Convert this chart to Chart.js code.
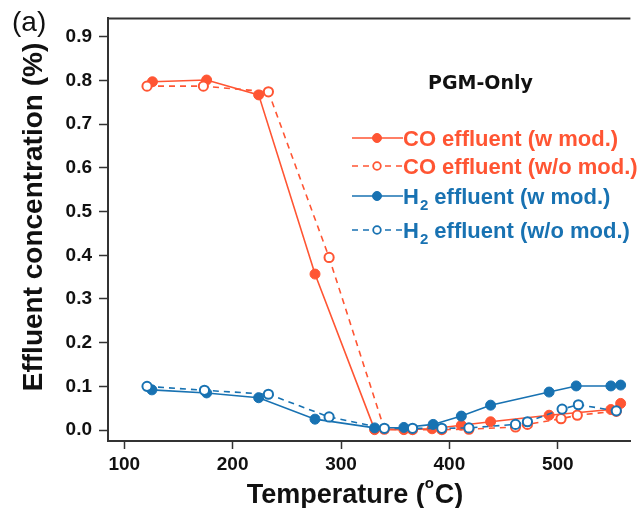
<!DOCTYPE html>
<html><head><meta charset="utf-8">
<script src="https://cdn.jsdelivr.net/npm/chart.js@4.4.1/dist/chart.umd.min.js"></script>
<style>html,body{margin:0;padding:0;background:#fff;overflow:hidden}canvas{display:block}</style>
</head><body>
<canvas id="c" width="637" height="508"></canvas>
<script>
// ---- data ----
const xTickValues = [100, 200, 300, 400, 500];
const xTickLabels = ['100', '200', '300', '400', '500'];
const yTickValues = [0, 0.1, 0.2, 0.3, 0.4, 0.5, 0.6, 0.7, 0.8, 0.9];
const yTickLabels = ['0.0', '0.1', '0.2', '0.3', '0.4', '0.5', '0.6', '0.7', '0.8', '0.9'];

const coTempW  = [126, 176, 224, 276, 331, 358, 384, 411, 438, 492, 549, 558];
const coW      = [0.797, 0.801, 0.767, 0.357, 0.001, 0.001, 0.003, 0.011, 0.019, 0.034, 0.047, 0.061];
const coTempWo = [121, 173, 233, 289, 340, 366, 393, 418, 461, 472, 503, 518, 554];
const coWo     = [0.787, 0.787, 0.774, 0.395, 0.002, 0.001, 0.001, 0.002, 0.007, 0.013, 0.026, 0.034, 0.043];
const h2TempW  = [125.5, 176, 224, 276, 331, 358, 385, 411, 438, 492, 517, 549, 558];
const h2W      = [0.092, 0.085, 0.074, 0.025, 0.005, 0.006, 0.013, 0.032, 0.057, 0.087, 0.101, 0.101, 0.103];
const h2TempWo = [121, 174, 233, 289, 340, 366, 393, 418, 461, 472, 504, 519, 554];
const h2Wo     = [0.100, 0.091, 0.082, 0.030, 0.004, 0.004, 0.004, 0.005, 0.013, 0.019, 0.048, 0.058, 0.044];

const seriesNames = ['CO effluent (w mod.)', 'CO effluent (w/o mod.)', 'H2 effluent (w mod.)', 'H2 effluent (w/o mod.)'];
const panelLabel = '(a)';
const annotation = 'PGM-Only';
const xTitle = 'Temperature (°C)';
const yTitle = 'Effluent concentration (%)';

// ---- styling ----
const RED = '#FF5533';
const BLUE = '#1872B2';
const AXIS = '#333333';
const TXT = '#111111';

const pts = (xs, ys) => xs.map((x, i) => ({ x: x, y: ys[i] }));

function mkDataset(label, xs, ys, color, filled, dashed, order) {
  return {
    label: label,
    data: pts(xs, ys),
    showLine: true,
    borderColor: color,
    borderWidth: 1.6,
    borderDash: dashed ? [6, 5] : [],
    pointRadius: filled ? 5 : 4.6,
    pointBorderWidth: filled ? 1 : 2,
    pointBackgroundColor: filled ? color : '#ffffff',
    pointBorderColor: color,
    fill: false,
    tension: 0,
    order: order
  };
}

const datasets = [
  mkDataset(seriesNames[0], coTempW, coW, RED, true, false, 3),
  mkDataset(seriesNames[1], coTempWo, coWo, RED, false, true, 2),
  mkDataset(seriesNames[2], h2TempW, h2W, BLUE, true, false, 1),
  mkDataset(seriesNames[3], h2TempWo, h2Wo, BLUE, false, true, 0)
];

function labelFor(values, labels, v) {
  for (let i = 0; i < values.length; i++) if (Math.abs(values[i] - v) < 1e-9) return labels[i];
  return '';
}

const decorPlugin = {
  id: 'decor',
  afterDraw(chart) {
    const ctx = chart.ctx;
    const ca = chart.chartArea;
    ctx.save();
    // top frame line
    ctx.strokeStyle = AXIS;
    ctx.lineWidth = 2;
    ctx.beginPath();
    ctx.moveTo(ca.left - 1, ca.top);
    ctx.lineTo(ca.right, ca.top);
    ctx.stroke();

    // panel label
    ctx.fillStyle = TXT;
    ctx.textBaseline = 'alphabetic';
    ctx.textAlign = 'left';
    ctx.font = '28px "Liberation Sans", Arial, sans-serif';
    ctx.fillText(panelLabel, 12, 31);

    // annotation
    ctx.font = 'bold 19px "DejaVu Sans", sans-serif';
    ctx.fillText(annotation, 428, 89);

    // y title
    ctx.save();
    ctx.translate(42, 217);
    ctx.rotate(-Math.PI / 2);
    ctx.textAlign = 'center';
    ctx.font = 'bold 28px "Liberation Sans", Arial, sans-serif';
    ctx.fillText(yTitle, 0, 0);
    ctx.restore();

    // x title with superscript degree
    const big = 'bold 27px "Liberation Sans", Arial, sans-serif';
    const small = 'bold 15px "Liberation Sans", Arial, sans-serif';
    const idx = xTitle.indexOf('°');
    const p1 = xTitle.slice(0, idx), p2 = 'o', p3 = xTitle.slice(idx + 1);
    ctx.font = big; const w1 = ctx.measureText(p1).width; const w3 = ctx.measureText(p3).width;
    ctx.font = small; const w2 = ctx.measureText(p2).width;
    let x0 = 355 - (w1 + w2 + w3 + 1) / 2;
    ctx.textAlign = 'left';
    ctx.font = big; ctx.fillText(p1, x0, 503);
    ctx.font = small; ctx.fillText(p2, x0 + w1, 488);
    ctx.font = big; ctx.fillText(p3, x0 + w1 + w2 + 1, 503);

    // legend
    const rows = [
      { ds: 0, y: 138 }, { ds: 1, y: 166 }, { ds: 2, y: 196 }, { ds: 3, y: 230 }
    ];
    const legFont = 'bold 22px "Liberation Sans", Arial, sans-serif';
    const subFont = 'bold 15px "Liberation Sans", Arial, sans-serif';
    rows.forEach(r => {
      const d = chart.data.datasets[r.ds];
      const col = d.borderColor;
      ctx.save();
      ctx.strokeStyle = col;
      ctx.lineWidth = 1.6;
      ctx.setLineDash(d.borderDash);
      ctx.beginPath();
      ctx.moveTo(352, r.y);
      ctx.lineTo(403, r.y);
      ctx.stroke();
      ctx.setLineDash([]);
      ctx.beginPath();
      const filled = d.pointBackgroundColor !== '#ffffff';
      ctx.arc(377, r.y, filled ? 4.5 : 3.8, 0, Math.PI * 2);
      ctx.fillStyle = d.pointBackgroundColor;
      ctx.fill();
      ctx.lineWidth = filled ? 1 : 1.8;
      ctx.stroke();
      ctx.restore();
      // text
      ctx.fillStyle = col;
      ctx.textAlign = 'left';
      ctx.textBaseline = 'alphabetic';
      const base = r.y + 8;
      const label = d.label;
      if (label.startsWith('H2')) {
        ctx.font = legFont;
        ctx.fillText('H', 403, base);
        const wH = ctx.measureText('H').width;
        ctx.font = subFont;
        ctx.fillText('2', 403 + wH + 1, base + 6);
        const w2s = ctx.measureText('2').width;
        ctx.font = legFont;
        ctx.fillText(label.slice(2), 403 + wH + w2s + 1, base);
      } else {
        ctx.font = legFont;
        ctx.fillText(label, 403, base);
      }
    });
    ctx.restore();
  }
};

new Chart(document.getElementById('c'), {
  type: 'scatter',
  data: { datasets: datasets },
  options: {
    responsive: false,
    animation: false,
    devicePixelRatio: 1,
    layout: { padding: { top: 15, left: 0, right: 0, bottom: 0 } },
    plugins: { legend: { display: false }, tooltip: { enabled: false } },
    scales: {
      x: {
        type: 'linear',
        min: 85, max: 567,
        afterFit: s => { s.height = 67; },
        afterBuildTicks: s => { s.ticks = xTickValues.map(v => ({ value: v })); },
        ticks: {
          callback: v => labelFor(xTickValues, xTickLabels, v),
          font: { family: '"Liberation Sans", Arial, sans-serif', size: 19, weight: 'bold' },
          color: TXT, padding: 4, maxRotation: 0, autoSkip: false
        },
        grid: { drawOnChartArea: false, drawTicks: true, tickLength: 8, tickColor: AXIS, tickWidth: 1.5 },
        border: { display: true, color: AXIS, width: 2 }
      },
      y: {
        type: 'linear',
        min: -0.025, max: 0.942,
        afterFit: s => { s.width = 108; },
        afterBuildTicks: s => { s.ticks = yTickValues.map(v => ({ value: v })); },
        ticks: {
          callback: v => labelFor(yTickValues, yTickLabels, v),
          font: { family: '"Liberation Sans", Arial, sans-serif', size: 19, weight: 'bold' },
          color: TXT, padding: 7, autoSkip: false
        },
        grid: { drawOnChartArea: false, drawTicks: true, tickLength: 9, tickColor: AXIS, tickWidth: 1.5 },
        border: { display: true, color: AXIS, width: 2 }
      }
    }
  },
  plugins: [decorPlugin]
});
</script>
</body></html>
